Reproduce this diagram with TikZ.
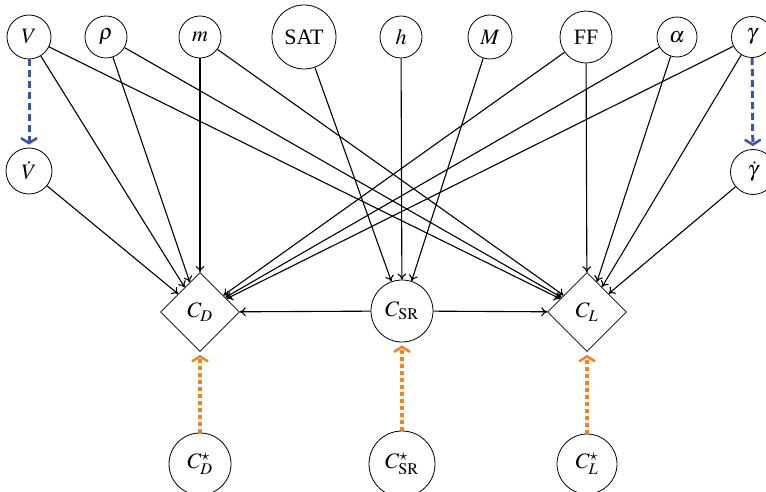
\documentclass[tikz,border=0pt]{standalone}
\usepackage{mathptmx}
\usepackage{fontspec}
\setmainfont{Liberation Serif}
\usetikzlibrary{shapes.geometric,arrows.meta}
\definecolor{dblue}{HTML}{3A55A4}
\definecolor{dorange}{HTML}{F58220}
\tikzset{
  var/.style={circle,draw,line width=0.8pt,inner sep=0pt,font=\fontsize{22}{26}\selectfont},
  dia/.style={diamond,draw,line width=0.8pt,inner sep=0pt,minimum width=79pt,minimum height=79pt,font=\fontsize{22}{26}\selectfont},
  edge/.style={line width=1.1pt,-{To[length=6pt,width=9pt]}},
  deriv/.style={line width=3pt,dblue,dash pattern=on 7pt off 4pt,-{Straight Barb[length=5pt,width=16pt,line width=2.5pt]},shorten >=3pt},
  prior/.style={line width=3.5pt,dorange,dash pattern=on 3.5pt off 3.5pt,-{Straight Barb[length=5pt,width=16pt,line width=2.5pt]},shorten >=3pt}
}
\begin{document}
\begin{tikzpicture}[x=1pt,y=-1pt]
\useasboundingbox (0,0) rectangle (766,492);
% top row
\node[var,minimum size=44pt] (V) at (29,37) {$V$};
\node[var,minimum size=42pt] (rho) at (106,37) {$\rho$};
\node[var,minimum size=42pt] (m) at (200,37) {$m$};
\node[var,minimum size=64pt] (SAT) at (304,37) {SAT};
\node[var,minimum size=42pt] (h) at (401,37) {$h$};
\node[var,minimum size=44pt] (M) at (490,37) {$M$};
\node[var,minimum size=52pt] (FF) at (586,37) {FF};
\node[var,minimum size=40pt] (alpha) at (677,37) {$\alpha$};
\node[var,minimum size=41pt] (gamma) at (752,37) {$\gamma$};
% second row
\node[var,minimum size=46pt] (Vd) at (29,171) {$\dot V$};
\node[var,minimum size=45pt] (gd) at (753,172) {$\dot\gamma$};
% middle row
\node[dia] (CD) at (200,312) {$C_D$};
\node[var,minimum size=62pt] (CSR) at (402,311) {$C_{\mathrm{SR}}$};
\node[dia] (CL) at (587,312) {$C_L$};
% bottom row
\node[var,minimum size=62pt] (CDs) at (200,464) {$C_D^\star$};
\node[var,minimum size=66pt] (CSRs) at (402,464) {$C_{\mathrm{SR}}^\star$};
\node[var,minimum size=60pt] (CLs) at (587,464) {$C_L^\star$};
% edges to C_D
\draw[edge] (Vd) -- (CD);
\draw[edge] (V) -- (CD);
\draw[edge] (rho) -- (CD);
\draw[edge] (m) -- (CD);
\draw[edge] (FF) -- (CD);
\draw[edge] (alpha) -- (CD);
\draw[edge] (gamma) -- (CD);
\draw[edge] (CSR) -- (CD);
% edges to C_SR
\draw[edge] (SAT) -- (CSR);
\draw[edge] (h) -- (CSR);
\draw[edge] (M) -- (CSR);
% edges to C_L
\draw[edge] (V) -- (CL);
\draw[edge] (rho) -- (CL);
\draw[edge] (m) -- (CL);
\draw[edge] (FF) -- (CL);
\draw[edge] (alpha) -- (CL);
\draw[edge] (gamma) -- (CL);
\draw[edge] (gd) -- (CL);
\draw[edge] (CSR) -- (CL);
% derivative links
\draw[deriv] (V) -- (Vd);
\draw[deriv] (gamma) -- (gd);
% priors
\draw[prior] (CDs) -- (CD);
\draw[prior] (CSRs) -- (CSR);
\draw[prior] (CLs) -- (CL);
\end{tikzpicture}
\end{document}
